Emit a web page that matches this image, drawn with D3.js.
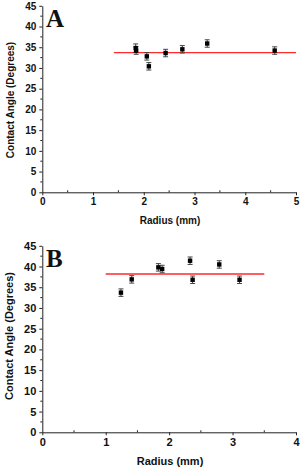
<!DOCTYPE html>
<html>
<head>
<meta charset="utf-8">
<script src="https://cdn.jsdelivr.net/npm/d3@7"></script>
<style>
  body { margin: 0; background: #fff; }
  svg { display: block; }
  text { font-family: Arial, "Liberation Sans", sans-serif; font-weight: bold; fill: #111; }
</style>
</head>
<body>
<div id="chart"></div>
<script>
// panel A data: radius (mm), contact angle (deg), error
var radiusA = [1.84, 1.85, 2.06, 2.10, 2.43, 2.76, 3.25, 4.58];
var angleA  = [34.8, 34.2, 32.8, 30.4, 33.6, 34.5, 35.9, 34.2];
var errA    = [1.0, 0.9, 0.9, 0.9, 0.9, 0.9, 0.9, 0.9];
var fitA = { x0: 1.41, x1: 5.0, y: 33.7 };

// panel B data
var radiusB = [1.24, 1.41, 1.83, 1.89, 2.33, 2.37, 2.79, 3.11];
var angleB  = [33.7, 36.9, 39.8, 39.4, 41.4, 36.8, 40.5, 36.8];
var errB    = [0.9, 0.9, 0.9, 0.9, 0.9, 0.9, 0.9, 0.9];
var fitB = { x0: 1.0, x1: 3.5, y: 38.2 };

var yTicks = [0, 5, 10, 15, 20, 25, 30, 35, 40, 45];

var svg = d3.select("#chart").append("svg")
    .attr("width", 300)
    .attr("height", 469);

function panel(cfg) {
    var x = d3.scaleLinear().domain([0, cfg.xmax]).range([42.3, 296]);
    var y = d3.scaleLinear().domain([0, 45]).range([cfg.bottom, cfg.bottom - 186.5]);
    var g = svg.append("g");

    // y axis
    var yAxis = d3.axisLeft(y).tickValues(yTicks).tickSizeInner(3).tickSizeOuter(0).tickPadding(3);
    var ga = g.append("g").attr("transform", "translate(" + x(0) + ",0)").call(yAxis);
    ga.selectAll("text").style("font-size", cfg.fs + "px");
    // minor y ticks
    g.selectAll(".ym").data(d3.range(2.5, 45, 5)).enter().append("line")
        .attr("x1", x(0) - 2).attr("x2", x(0))
        .attr("y1", function(d) { return y(d); }).attr("y2", function(d) { return y(d); })
        .attr("stroke", "#222");

    // x axis
    var xAxis = d3.axisBottom(x).ticks(cfg.xmax).tickFormat(d3.format("d")).tickSizeInner(3).tickSizeOuter(0).tickPadding(3);
    var gx = g.append("g").attr("transform", "translate(0," + cfg.bottom + ")").call(xAxis);
    gx.selectAll("text").style("font-size", cfg.fs + "px");
    g.selectAll(".xm").data(d3.range(0.5, cfg.xmax, 1)).enter().append("line")
        .attr("x1", function(d) { return x(d); }).attr("x2", function(d) { return x(d); })
        .attr("y1", cfg.bottom - 2).attr("y2", cfg.bottom)
        .attr("stroke", "#222");
    g.selectAll(".domain, .tick line").attr("stroke", "#222");

    // fit line
    g.append("line")
        .attr("x1", x(cfg.fit.x0)).attr("x2", x(cfg.fit.x1))
        .attr("y1", y(cfg.fit.y)).attr("y2", y(cfg.fit.y))
        .attr("stroke", "#ff2a2a").attr("stroke-width", 1.4);

    var pts = cfg.xs.map(function(d, i) { return { r: d, a: cfg.ys[i], e: cfg.es[i] }; });

    // error bars
    var eb = g.selectAll(".eb").data(pts).enter().append("g").attr("stroke", "#444");
    eb.append("line")
        .attr("x1", function(d) { return x(d.r); }).attr("x2", function(d) { return x(d.r); })
        .attr("y1", function(d) { return y(d.a - d.e); }).attr("y2", function(d) { return y(d.a + d.e); });
    eb.append("line")
        .attr("x1", function(d) { return x(d.r) - 2.5; }).attr("x2", function(d) { return x(d.r) + 2.5; })
        .attr("y1", function(d) { return y(d.a + d.e); }).attr("y2", function(d) { return y(d.a + d.e); });
    eb.append("line")
        .attr("x1", function(d) { return x(d.r) - 2.5; }).attr("x2", function(d) { return x(d.r) + 2.5; })
        .attr("y1", function(d) { return y(d.a - d.e); }).attr("y2", function(d) { return y(d.a - d.e); });

    // markers
    g.selectAll(".pt").data(pts).enter().append("rect")
        .attr("x", function(d) { return x(d.r) - 2.2; })
        .attr("y", function(d) { return y(d.a) - 2.2; })
        .attr("width", 4.4).attr("height", 4.4)
        .attr("fill", "#000");

    // axis titles
    g.append("text")
        .attr("x", 170).attr("y", cfg.xlabY)
        .attr("text-anchor", "middle")
        .style("font-size", cfg.fs + "px")
        .text("Radius (mm)");
    g.append("text")
        .attr("transform", "translate(" + cfg.ylabX + "," + cfg.ylabC + ") rotate(-90)")
        .attr("text-anchor", "middle")
        .style("font-size", cfg.fs + "px")
        .text("Contact Angle (Degrees)");

    // panel letter
    g.append("text")
        .attr("x", 46).attr("y", cfg.letterY)
        .style("font-family", "'Liberation Serif', 'Times New Roman', serif")
        .style("font-size", "25px")
        .text(cfg.letter);
}

panel({ xmax: 5, bottom: 192.3, xs: radiusA, ys: angleA, es: errA, fit: fitA,
        fs: 10, xlabY: 224, ylabX: 14, ylabC: 100, letter: "A", letterY: 27 });
panel({ xmax: 4, bottom: 432.3, xs: radiusB, ys: angleB, es: errB, fit: fitB,
        fs: 11, xlabY: 465, ylabX: 13, ylabC: 336, letter: "B", letterY: 267 });
</script>
</body>
</html>
